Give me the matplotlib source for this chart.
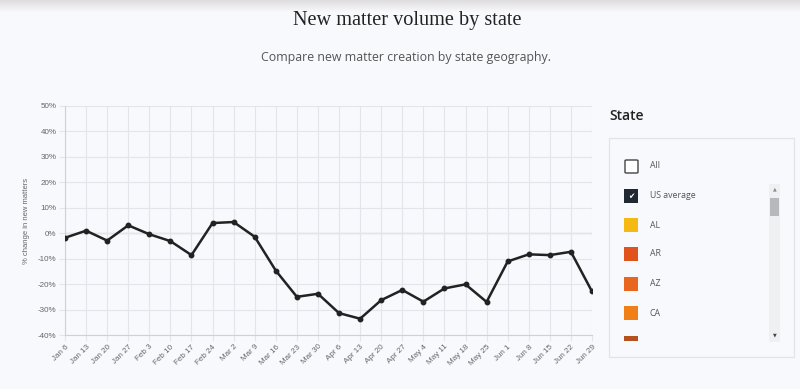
import matplotlib
matplotlib.use("Agg")
import matplotlib.pyplot as plt
from matplotlib.patches import Rectangle, FancyBboxPatch
import numpy as np

weeks = ["Jan 6", "Jan 13", "Jan 20", "Jan 27", "Feb 3", "Feb 10", "Feb 17", "Feb 24",
         "Mar 2", "Mar 9", "Mar 16", "Mar 23", "Mar 30", "Apr 6", "Apr 13", "Apr 20",
         "Apr 27", "May 4", "May 11", "May 18", "May 25", "Jun 1", "Jun 8", "Jun 15",
         "Jun 22", "Jun 29"]
us_average = [-1.8, 1.0, -2.9, 3.1, -0.4, -3.1, -8.6, 4.0, 4.4, -1.4, -14.7, -25.0,
              -23.8, -31.4, -33.6, -26.3, -22.3, -26.9, -21.7, -20.1, -27.0, -11.1,
              -8.3, -8.6, -7.3, -22.9]
y_ticks = [50, 40, 30, 20, 10, 0, -10, -20, -30, -40]
legend_labels = ["All", "US average", "AL", "AR", "AZ", "CA", "CO"]
legend_colors = [None, "#222831", "#f5b914", "#e0531c", "#e8661d", "#f07f16", "#b5501f"]

W, H = 800, 389
BG = "#f8f9fc"
fig = plt.figure(figsize=(W / 100, H / 100), dpi=100, facecolor=BG)

def fx(px):
    return px / W

def fy(py):
    return 1 - py / H

# top shadow strip
for i in range(12):
    shade = 0.87 + i * 0.009
    fig.patches.append(Rectangle((0, fy(i + 1)), 1, 1 / H, transform=fig.transFigure,
                                 facecolor=(shade, shade, min(1, shade + 0.01)),
                                 edgecolor="none", zorder=0))

fig.text(fx(407), fy(20), "New matter volume by state", ha="center", va="center",
         fontsize=14.6, family="Liberation Serif", color="#222222")
fig.text(fx(406), fy(57), "Compare new matter creation by state geography.", ha="center",
         va="center", fontsize=8.9, family="Open Sans", color="#555555")

# main axes
left, right, top, bottom = 65, 592, 106, 335
ax = fig.add_axes([fx(left), fy(bottom), fx(right - left), (bottom - top) / H])
ax.set_facecolor(BG)
x = np.arange(len(weeks))
ax.plot(x, us_average, color="#222222", lw=1.8, marker="o", ms=3.2, zorder=3)
ax.set_xlim(0, len(weeks) - 1)
ax.set_ylim(-40, 50)
ax.set_yticks(y_ticks)
ax.set_yticklabels([f"{v}%" for v in y_ticks])
ax.set_xticks(x)
ax.set_xticklabels(weeks, rotation=45, ha="right", rotation_mode="anchor")
ax.grid(True, color="#e4e5ea", lw=0.8)
ax.axhline(0, color="#bfc0c5", lw=0.9, zorder=1)
for s in ["top", "right"]:
    ax.spines[s].set_visible(False)
for s in ["left", "bottom"]:
    ax.spines[s].set_color("#d0d0d5")
    ax.spines[s].set_linewidth(0.8)
ax.tick_params(axis="both", colors="#e4e5ea", labelcolor="#666666", labelsize=5.8,
               length=4, width=0.8, pad=2)
for lab in ax.get_xticklabels() + ax.get_yticklabels():
    lab.set_family("Liberation Sans")
ax.set_ylabel("% change in new matters", fontsize=5.5, color="#666666",
              family="Liberation Sans", labelpad=6)

# right panel
fig.text(fx(609), fy(116), "State", ha="left", va="center", fontsize=10,
         family="Open Sans", weight="semibold", color="#222222")
fig.patches.append(Rectangle((fx(609), fy(357)), fx(794 - 609), (357 - 138) / H,
                             transform=fig.transFigure, facecolor=BG,
                             edgecolor="#e2e3e8", lw=0.9, zorder=1))
item_y = [166, 196, 225, 254, 284, 313, 342]
for i, (lab, col, yy) in enumerate(zip(legend_labels, legend_colors, item_y)):
    size = 14
    if lab == "CO":
        # clipped item at bottom of scroll area
        fig.patches.append(Rectangle((fx(624), fy(341)), fx(size), 5 / H,
                                     transform=fig.transFigure, facecolor=col,
                                     edgecolor="none", zorder=2))
        continue
    if col is None:
        fig.patches.append(FancyBboxPatch((fx(625), fy(yy + 7)), fx(size - 1), (size - 1) / H,
                                          boxstyle="round,pad=0,rounding_size=0.002",
                                          transform=fig.transFigure, facecolor="white",
                                          edgecolor="#444444", lw=1.0, zorder=2))
    else:
        fig.patches.append(Rectangle((fx(624), fy(yy + 7)), fx(size), size / H,
                                     transform=fig.transFigure, facecolor=col,
                                     edgecolor="none", zorder=2))
    if lab == "US average":
        fig.text(fx(631), fy(yy), "\u2714", ha="center", va="center", fontsize=5.5,
                 color="white", family="DejaVu Sans", zorder=3)
    fig.text(fx(650), fy(yy), lab, ha="left", va="center", fontsize=6.3,
             family="Open Sans", color="#555555", zorder=3)

# scrollbar
fig.patches.append(Rectangle((fx(769), fy(342)), fx(11), (342 - 184) / H,
                             transform=fig.transFigure, facecolor="#f0f0f2",
                             edgecolor="none", zorder=2))
fig.patches.append(Rectangle((fx(770), fy(216)), fx(9), 18 / H,
                             transform=fig.transFigure, facecolor="#b8b8bc",
                             edgecolor="none", zorder=3))
fig.text(fx(774.5), fy(189), "\u25b2", ha="center", va="center", fontsize=3.5,
         color="#888888", zorder=4)
fig.text(fx(774.5), fy(335), "\u25bc", ha="center", va="center", fontsize=3.5,
         color="#444444", zorder=4)

fig.savefig("out.png", dpi=100, facecolor=BG)
